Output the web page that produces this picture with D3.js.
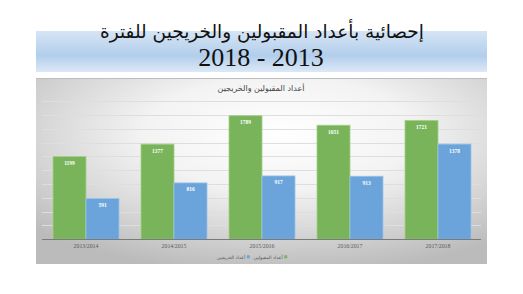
<!DOCTYPE html>
<html>
<head>
<meta charset="utf-8">
<script src="https://cdn.jsdelivr.net/npm/d3@7"></script>
<style>
  body { margin: 0; background: #fff; }
  svg { display: block; }
</style>
</head>
<body>
<div id="chart"></div>
<script>
var years = ['2013/2014', '2014/2015', '2015/2016', '2016/2017', '2017/2018']
var accepted = [1199, 1377, 1789, 1651, 1721]
var graduates = [591, 816, 917, 913, 1378]
var seriesNames = ['أعداد المقبولين', 'أعداد الخريجين']
var yTicks = [0, 200, 400, 600, 800, 1000, 1200, 1400, 1600, 1800, 2000]

var w = 523, h = 294
var svg = d3.select('#chart').append('svg').attr('width', w).attr('height', h)
var defs = svg.append('defs')

// banner gradient
var bg = defs.append('linearGradient').attr('id', 'banner').attr('x1', 0).attr('y1', 0).attr('x2', 0).attr('y2', 1)
bg.append('stop').attr('offset', '0%').attr('stop-color', '#d6e5f5')
bg.append('stop').attr('offset', '60%').attr('stop-color', '#b2ceeb')
bg.append('stop').attr('offset', '100%').attr('stop-color', '#dce8f6')

// chart panel gradient
var pg = defs.append('radialGradient').attr('id', 'panel')
  .attr('cx', '54%').attr('cy', '30%').attr('r', '75%').attr('fx', '54%').attr('fy', '30%')
pg.append('stop').attr('offset', '0%').attr('stop-color', '#ffffff')
pg.append('stop').attr('offset', '40%').attr('stop-color', '#f3f3f3')
pg.append('stop').attr('offset', '100%').attr('stop-color', '#bbbbbb')

svg.append('rect').attr('x', 36).attr('y', 31).attr('width', 451).attr('height', 41).attr('fill', 'url(#banner)')

svg.append('text').attr('x', 262).attr('y', 38).attr('text-anchor', 'middle')
  .attr('direction', 'rtl')
  .style('font-family', '"DejaVu Sans", "Liberation Serif", serif').style('font-size', '18.5px').attr('fill', '#111')
  .text('إحصائية بأعداد المقبولين والخريجين للفترة')
svg.append('text').attr('x', 261).attr('y', 66).attr('text-anchor', 'middle')
  .style('font-family', '"Liberation Serif", serif').style('font-size', '26px').attr('fill', '#111')
  .text('2018 - 2013')

// panel
svg.append('rect').attr('x', 36).attr('y', 78).attr('width', 451).attr('height', 186).attr('fill', 'url(#panel)')
svg.append('line').attr('x1', 36).attr('x2', 487).attr('y1', 78.5).attr('y2', 78.5).attr('stroke', '#bdbdbd').attr('stroke-width', 1)

svg.append('text').attr('x', 261).attr('y', 91).attr('text-anchor', 'middle').attr('direction', 'rtl')
  .style('font-family', '"DejaVu Sans", sans-serif').style('font-size', '8px').attr('fill', '#444')
  .text('أعداد المقبولين والخريجين')

var x0 = d3.scaleBand().domain(years).range([42, 482]).paddingInner(0.25).paddingOuter(0.125)
var x1 = d3.scaleBand().domain([0, 1]).range([0, x0.bandwidth()])
var y = d3.scaleLinear().domain([0, 2000]).range([239.3, 101.1])

// gridlines
svg.append('g').selectAll('line').data(yTicks.slice(1)).join('line')
  .attr('x1', 42).attr('x2', 481)
  .attr('y1', function (d) { return Math.round(y(d)) + 0.5 })
  .attr('y2', function (d) { return Math.round(y(d)) + 0.5 })
  .attr('stroke', '#dedede').attr('stroke-width', 1)

var colors = ['#79b45b', '#6aa4da']
var strokes = ['#a6d08c', '#9cc3e6']
var series = [accepted, graduates]

series.forEach(function (vals, si) {
  var g = svg.append('g')
  g.selectAll('rect').data(vals).join('rect')
    .attr('x', function (d, i) { return x0(years[i]) + x1(si) })
    .attr('y', function (d) { return y(d) })
    .attr('width', x1.bandwidth())
    .attr('height', function (d) { return y(0) - y(d) })
    .attr('fill', colors[si]).attr('stroke', strokes[si]).attr('stroke-width', 0.8)
  g.selectAll('text').data(vals).join('text')
    .attr('x', function (d, i) { return x0(years[i]) + x1(si) + x1.bandwidth() / 2 })
    .attr('y', function (d) { return y(d) + 8.5 })
    .attr('text-anchor', 'middle')
    .style('font-family', '"Liberation Serif", serif').style('font-size', '5.5px').style('font-weight', 'bold')
    .attr('fill', '#fff')
    .text(function (d) { return d })
})

// axis line
svg.append('line').attr('x1', 42).attr('x2', 481).attr('y1', 239.5).attr('y2', 239.5).attr('stroke', '#7a7a7a').attr('stroke-width', 1.2)

var xAxis = svg.append('g').attr('transform', 'translate(0,239.5)')
  .call(d3.axisBottom(x0).tickSize(0).tickPadding(4))
xAxis.select('.domain').remove()
xAxis.selectAll('text').style('font-family', '"Liberation Serif", serif').style('font-size', '5.8px').attr('fill', '#595959')

// legend: right-to-left, [text][marker] per item, centred under the plot
var legend = svg.append('g').style('font-family', '"DejaVu Sans", sans-serif').style('font-size', '4.6px')
var legOrder = [1, 0]
var items = legOrder.map(function (si) {
  var t = legend.append('text').attr('y', 258.6).attr('text-anchor', 'start').attr('fill', '#595959').text(seriesNames[si])
  return { si: si, t: t, w: t.node().getComputedTextLength() }
})
var sq = 3, gap = 1.5, itemGap = 4
var total = d3.sum(items, function (d) { return d.w + gap + sq }) + itemGap * (items.length - 1)
var cx = 252 - total / 2
items.forEach(function (it) {
  it.t.attr('x', cx)
  legend.append('rect').attr('x', cx + it.w + gap).attr('y', 255.3).attr('width', sq).attr('height', sq).attr('fill', colors[it.si])
  cx += it.w + gap + sq + itemGap
})
</script>
</body>
</html>
